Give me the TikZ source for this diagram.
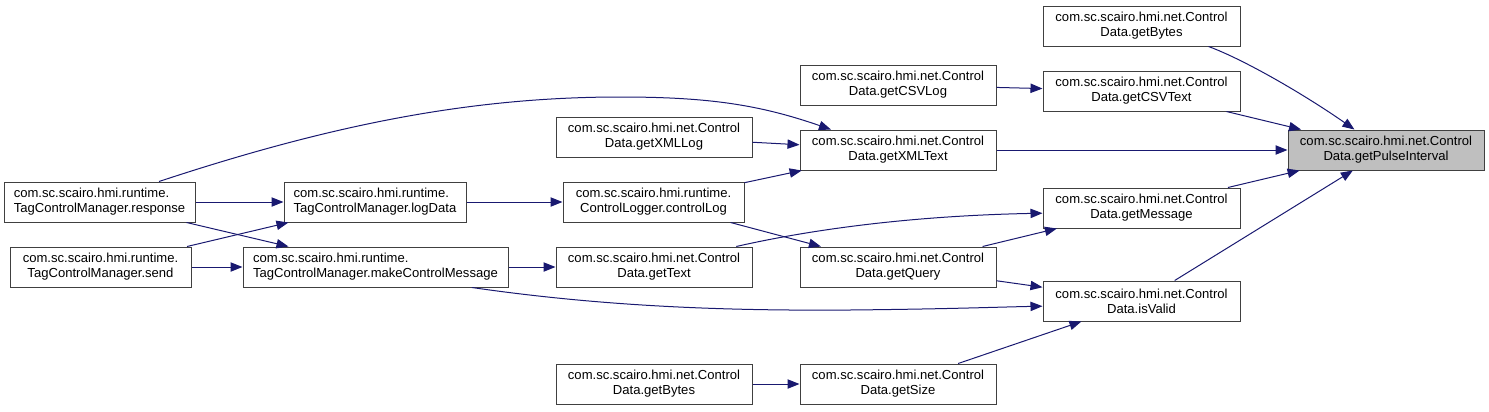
\documentclass[tikz,border=0pt]{standalone}
\usepackage{fontspec}
\setmainfont{Liberation Sans}
\usetikzlibrary{arrows.meta}
\definecolor{edgec}{HTML}{191970}
\definecolor{boxc}{HTML}{404040}
\definecolor{rootfill}{HTML}{BFBFBF}
\tikzset{
  fnbox/.style={draw=boxc, line width=0.75pt, fill=white, inner sep=0pt,
    minimum height=30pt, font=\fontsize{9.8}{11.3}\selectfont, align=center},
  callarrow/.style={draw=edgec, line width=0.75pt, -{Triangle[length=9pt,width=7pt]}},
}
\begin{document}
\begin{tikzpicture}[x=0.75pt,y=-0.75pt]
\useasboundingbox (0,0) rectangle (1489,411);
% nodes
\node[fnbox, minimum width=147.75pt] (gbA) at (1141.5,26) {com.sc.scairo.hmi.net.Control\\Data.getBytes};
\node[fnbox, minimum width=147pt] (csvlog) at (898,85) {com.sc.scairo.hmi.net.Control\\Data.getCSVLog};
\node[fnbox, minimum width=147.75pt] (csvtext) at (1141.5,91) {com.sc.scairo.hmi.net.Control\\Data.getCSVText};
\node[fnbox, minimum width=147pt] (xmllog) at (654,137) {com.sc.scairo.hmi.net.Control\\Data.getXMLLog};
\node[fnbox, minimum width=147pt] (xmltext) at (898,150) {com.sc.scairo.hmi.net.Control\\Data.getXMLText};
\node[fnbox, minimum width=147pt, fill=rootfill] (pulse) at (1386,150) {com.sc.scairo.hmi.net.Control\\Data.getPulseInterval};
\node[fnbox, minimum width=143.25pt, align=left] (resp) at (99.5,202) {com.sc.scairo.hmi.runtime.\\TagControlManager.response};
\node[fnbox, minimum width=136.5pt, align=left] (logd) at (375,202) {com.sc.scairo.hmi.runtime.\\TagControlManager.logData};
\node[fnbox, minimum width=135.75pt] (clog) at (653.5,202) {com.sc.scairo.hmi.runtime.\\ControlLogger.controlLog};
\node[fnbox, minimum width=147.75pt] (msg) at (1141.5,208) {com.sc.scairo.hmi.net.Control\\Data.getMessage};
\node[fnbox, minimum width=135.75pt] (send) at (100.5,267) {com.sc.scairo.hmi.runtime.\\TagControlManager.send};
\node[fnbox, minimum width=198.75pt, align=left] (mcm) at (375.5,267) {com.sc.scairo.hmi.runtime.\\TagControlManager.makeControlMessage};
\node[fnbox, minimum width=147pt] (gtext) at (654,267) {com.sc.scairo.hmi.net.Control\\Data.getText};
\node[fnbox, minimum width=147pt] (query) at (898,267) {com.sc.scairo.hmi.net.Control\\Data.getQuery};
\node[fnbox, minimum width=147.75pt] (valid) at (1141.5,301) {com.sc.scairo.hmi.net.Control\\Data.isValid};
\node[fnbox, minimum width=147pt] (gbB) at (654,384) {com.sc.scairo.hmi.net.Control\\Data.getBytes};
\node[fnbox, minimum width=147pt] (size) at (898,384) {com.sc.scairo.hmi.net.Control\\Data.getSize};
% edges
\draw[callarrow] (gbA.-17) .. controls (1245,60) and (1305,95) .. (pulse.147);
\draw[callarrow] (csvtext) -- (pulse);
\draw[callarrow] (xmltext) -- (pulse);
\draw[callarrow] (msg) -- (pulse);
\draw[callarrow] (valid) -- (pulse);
\draw[callarrow] (csvlog) -- (csvtext);
\draw[callarrow] (xmllog) -- (xmltext);
\draw[callarrow] (clog) -- (xmltext);
\draw[callarrow] (resp.19) .. controls (330,125) and (470,97) .. (620,97) .. controls (710,97) and (760,105) .. (xmltext.163);
\draw[callarrow] (resp) -- (logd);
\draw[callarrow] (send) -- (logd);
\draw[callarrow] (resp) -- (mcm);
\draw[callarrow] (send) -- (mcm);
\draw[callarrow] (logd) -- (clog);
\draw[callarrow] (mcm) -- (gtext);
\draw[callarrow] (mcm.-12) .. controls (600,306) and (720,311) .. (850,310) .. controls (950,309) and (1000,307) .. (valid.183);
\draw[callarrow] (gtext.14) .. controls (800,232) and (900,216) .. (msg.183);
\draw[callarrow] (clog) -- (query);
\draw[callarrow] (query) -- (msg);
\draw[callarrow] (query) -- (valid);
\draw[callarrow] (size) -- (valid);
\draw[callarrow] (gbB) -- (size);
\end{tikzpicture}
\end{document}
